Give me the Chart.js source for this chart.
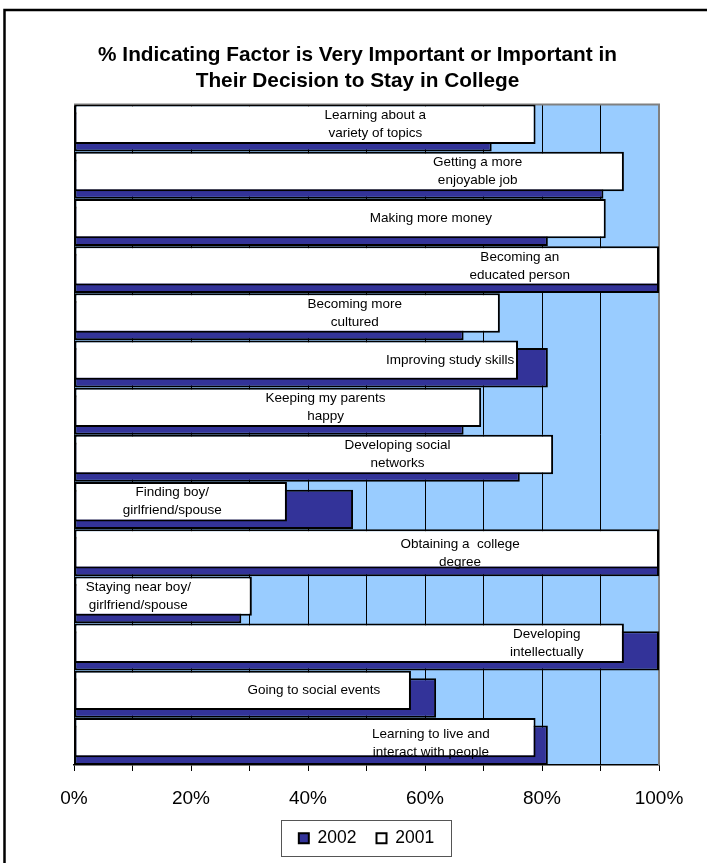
<!DOCTYPE html>
<html><head><meta charset="utf-8">
<script src="https://cdn.jsdelivr.net/npm/chart.js@4"></script>
<style>html,body{margin:0;padding:0;background:#fff;} canvas{display:block;}</style>
</head><body>
<canvas id="c" width="707" height="863"></canvas>
<script>
const categories = [
  ["Learning about a", "variety of topics"],
  ["Getting a more", "enjoyable job"],
  ["Making more money"],
  ["Becoming an", "educated person"],
  ["Becoming more", "cultured"],
  ["Improving study skills"],
  ["Keeping my parents", "happy"],
  ["Developing social", "networks"],
  ["Finding boy/", "girlfriend/spouse"],
  ["Obtaining a  college", "degree"],
  ["Staying near boy/", "girlfriend/spouse"],
  ["Developing", "intellectually"],
  ["Going to social events"],
  ["Learning to live and", "interact with people"]
];
const values2002 = [71.4, 90.5, 81.0, 100, 66.6, 81.0, 66.6, 76.2, 47.7, 100, 28.6, 100, 61.9, 81.0];
const values2001 = [78.9, 94.0, 90.9, 100, 72.8, 75.9, 69.6, 81.9, 36.4, 100, 30.4, 94.0, 57.6, 78.9];
const seriesNames = ["2002", "2001"];
const tickValues = [0, 10, 20, 30, 40, 50, 60, 70, 80, 90, 100];
const titleLines = ["% Indicating Factor is Very Important or Important in", "Their Decision to Stay in College"];
// where each in-bar category label sits (axis value of its centre) and a small vertical nudge
const labelAt = [51.5, 69, 61, 76.2, 48, 64.3, 43, 55.3, 16.8, 66, 11, 80.8, 41, 61];
const labelNudge = [0, 0, 0, 0, 0, 0, 0, 0, 0, 4, 0, 0, 0, 6];

const FONT = "'Liberation Sans', Arial, Helvetica, sans-serif";
Chart.defaults.font.family = FONT;
Chart.defaults.color = '#000';

const bgPlugin = {
  id: 'bg',
  afterLayout(chart) {
    const t = chart.titleBlock;
    if (t) { t.left -= 9; t.right -= 9; }
  },
  beforeDraw(chart) {
    const {ctx, chartArea: a} = chart;
    ctx.save();
    ctx.fillStyle = '#fff';
    ctx.fillRect(0, 0, chart.width, chart.height);
    ctx.strokeStyle = '#000';
    ctx.lineWidth = 2.5;
    ctx.beginPath();
    ctx.moveTo(4.5, chart.height + 2);
    ctx.lineTo(4.5, 10);
    ctx.lineTo(chart.width + 2, 10);
    ctx.stroke();
    ctx.fillStyle = '#99CCFF';
    ctx.fillRect(a.left, a.top, a.right - a.left, a.bottom - a.top);
    ctx.restore();
  },
  beforeDatasetsDraw(chart) {
    const {ctx, chartArea: a} = chart;
    ctx.save();
    ctx.strokeStyle = '#808080';
    ctx.lineWidth = 2;
    ctx.beginPath();
    ctx.moveTo(a.left, a.top);
    ctx.lineTo(a.right, a.top);
    ctx.lineTo(a.right, a.bottom);
    ctx.stroke();
    ctx.restore();
  }
};

const labelPlugin = {
  id: 'catLabels',
  afterDatasetsDraw(chart) {
    const {ctx} = chart;
    const xs = chart.scales.x;
    const meta = chart.getDatasetMeta(1);
    ctx.save();
    ctx.fillStyle = '#000';
    ctx.font = '13.5px ' + FONT;
    ctx.textAlign = 'center';
    ctx.textBaseline = 'middle';
    const lh = 18;
    categories.forEach((lines, i) => {
      const bar = meta.data[i];
      const x = xs.getPixelForValue(labelAt[i]);
      const y0 = bar.y + labelNudge[i] - (lines.length - 1) * lh / 2;
      lines.forEach((t, j) => ctx.fillText(t, x, y0 + j * lh));
    });
    ctx.restore();
  }
};

const legendBoxPlugin = {
  id: 'legendBox',
  afterDraw(chart) {
    const lg = chart.legend;
    if (!lg || !lg.legendHitBoxes || !lg.legendHitBoxes.length) return;
    const hb = lg.legendHitBoxes;
    const left = Math.min(...hb.map(h => h.left)) - 18;
    const right = Math.max(...hb.map(h => h.left + h.width)) + 17;
    const cy = hb[0].top + hb[0].height / 2;
    const {ctx} = chart;
    ctx.save();
    ctx.strokeStyle = '#555';
    ctx.lineWidth = 1;
    ctx.strokeRect(Math.round(left) + 0.5, Math.round(cy - 18) + 0.5, Math.round(right - left), 36);
    ctx.restore();
  }
};

new Chart(document.getElementById('c'), {
  type: 'bar',
  data: {
    labels: categories,
    datasets: [
      { label: seriesNames[0], data: values2002, backgroundColor: '#333399', borderColor: '#000', borderWidth: 2,
        borderSkipped: false, order: 1, categoryPercentage: 0.322, barPercentage: 5.18 },
      { label: seriesNames[1], data: values2001, backgroundColor: '#FFFFFF', borderColor: '#000', borderWidth: 2,
        borderSkipped: false, order: 0, categoryPercentage: 0.322, barPercentage: 5.18 }
    ]
  },
  options: {
    indexAxis: 'y',
    responsive: false,
    devicePixelRatio: 1,
    animation: false,
    layout: { padding: { left: 74, right: 48, top: 29, bottom: 6 } },
    scales: {
      x: {
        type: 'linear', position: 'bottom', min: 0, max: 100,
        afterBuildTicks: (s) => { s.ticks = tickValues.map(v => ({ value: v })); },
        afterFit: (s) => { s.height = 44.5; },
        ticks: {
          autoSkip: false, maxRotation: 0, padding: 16,
          font: { size: 19 }, color: '#000',
          callback: (v) => (v % 20 === 0 ? v + '%' : '')
        },
        grid: {
          color: (c) => (c.tick && c.tick.value === 100 ? '#808080' : '#000'),
          lineWidth: 1, tickLength: 6, tickColor: '#000', tickWidth: 1
        },
        border: { display: true, color: '#000', width: 1.5 }
      },
      y: { type: 'category', display: false, offset: true }
    },
    plugins: {
      title: {
        display: true, text: titleLines, color: '#000',
        font: { size: 20.8, weight: 'bold', lineHeight: '26px' },
        padding: { top: 13, bottom: 10.5 }
      },
      legend: {
        display: true, position: 'bottom',
        labels: {
          boxWidth: 10, boxHeight: 10, padding: 20, color: '#000',
          font: { size: 17.5 },
          sort: (a, b) => a.datasetIndex - b.datasetIndex
        }
      },
      tooltip: { enabled: false }
    }
  },
  plugins: [bgPlugin, labelPlugin, legendBoxPlugin]
});
</script>
</body></html>
